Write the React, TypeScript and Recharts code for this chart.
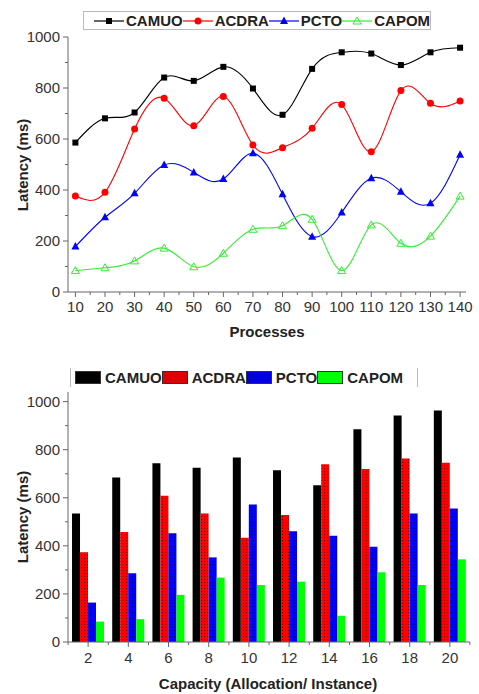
import React from 'react';
import { LineChart, Line, BarChart, Bar, XAxis, YAxis, Legend } from 'recharts';

// ---------- Top chart data ----------
const processes = [10, 20, 30, 40, 50, 60, 70, 80, 90, 100, 110, 120, 130, 140];
const camuoLine = [586, 681, 704, 841, 828, 883, 798, 695, 875, 940, 935, 890, 940, 958];
const acdraLine = [376, 391, 639, 760, 652, 767, 576, 566, 642, 735, 550, 790, 740, 749];
const pctoLine = [178, 293, 387, 498, 469, 443, 544, 383, 217, 312, 446, 393, 348, 538];
const capomLine = [84, 95, 122, 172, 99, 152, 246, 260, 285, 84, 263, 191, 219, 376];

// ---------- Bottom chart data ----------
const capacity = ['2', '4', '6', '8', '10', '12', '14', '16', '18', '20'];
const camuoBar = [535, 684, 744, 725, 768, 714, 652, 885, 942, 963];
const acdraBar = [373, 458, 608, 535, 434, 528, 739, 720, 763, 746];
const pctoBar = [164, 286, 452, 352, 572, 461, 442, 396, 535, 555];
const capomBar = [85, 95, 196, 268, 237, 251, 109, 290, 237, 344];

const seriesNames = ['CAMUO', 'ACDRA', 'PCTO', 'CAPOM'];
const lineColors = ['#000000', '#ff0000', '#0000ff', '#33ee33'];
const barColors = ['#000000', 'url(#redHatch)', 'url(#blueHatch)', '#00ff00'];
const barSwatch = ['#000000', '#e00000', '#0000dd', '#00ff00'];

const yTicks = [0, 100, 200, 300, 400, 500, 600, 700, 800, 900, 1000];
const xTicksTop = [10, 15, 20, 25, 30, 35, 40, 45, 50, 55, 60, 65, 70, 75, 80, 85, 90, 95, 100, 105, 110, 115, 120, 125, 130, 135, 140];

const FONT = '"Liberation Sans", Arial, sans-serif';
const AXIS = '#666';
const TXT = '#333';

const lineData = processes.map((p, i) => ({
  p,
  CAMUO: camuoLine[i],
  ACDRA: acdraLine[i],
  PCTO: pctoLine[i],
  CAPOM: capomLine[i],
}));

const barData = capacity.map((c, i) => ({
  c,
  CAMUO: camuoBar[i],
  ACDRA: acdraBar[i],
  PCTO: pctoBar[i],
  CAPOM: capomBar[i],
}));

const YTick = (props: any) => {
  const { x, y, payload } = props;
  const major = payload.value % 200 === 0;
  return (
    <g>
      <line x1={x} x2={x - (major ? 5 : 3)} y1={y} y2={y} stroke={AXIS} strokeWidth={1} />
      {major && (
        <text x={x - 8} y={y} dy={5} textAnchor="end" fontSize={15} fill={TXT} fontFamily={FONT}>
          {payload.value}
        </text>
      )}
    </g>
  );
};

const XTickTop = (props: any) => {
  const { x, y, payload } = props;
  const major = payload.value % 10 === 0;
  return (
    <g>
      <line x1={x} x2={x} y1={y} y2={y + (major ? 5 : 3)} stroke={AXIS} strokeWidth={1} />
      {major && (
        <text x={x} y={y + 20} textAnchor="middle" fontSize={15} fill={TXT} fontFamily={FONT}>
          {payload.value}
        </text>
      )}
    </g>
  );
};

const XTickBar = (props: any) => {
  const { x, y, payload, index } = props;
  return (
    <g>
      <line x1={x} x2={x} y1={y} y2={y + 5} stroke={AXIS} strokeWidth={1} />
      <line x1={x - 20} x2={x - 20} y1={y} y2={y + 3} stroke={AXIS} strokeWidth={1} />
      {index === capacity.length - 1 && (
        <line x1={x + 20} x2={x + 20} y1={y} y2={y + 3} stroke={AXIS} strokeWidth={1} />
      )}
      <text x={x} y={y + 21} textAnchor="middle" fontSize={15} fill={TXT} fontFamily={FONT}>
        {payload.value}
      </text>
    </g>
  );
};

const makeDot = (kind: number) => (p: any) => {
  const { cx, cy, key } = p;
  if (cx == null || cy == null) return <g key={key} />;
  if (kind === 0) return <rect key={key} x={cx - 3} y={cy - 3} width={6} height={6} fill="#000" />;
  if (kind === 1) return <circle key={key} cx={cx} cy={cy} r={3.5} fill="#ff0000" />;
  if (kind === 2)
    return <polygon key={key} points={`${cx},${cy - 4.5} ${cx - 4},${cy + 3} ${cx + 4},${cy + 3}`} fill="#0000ff" />;
  return (
    <polygon
      key={key}
      points={`${cx},${cy - 4} ${cx - 4},${cy + 3} ${cx + 4},${cy + 3}`}
      fill="none"
      stroke="#33ee33"
      strokeWidth={1}
    />
  );
};

const LineLegend = () => (
  <div
    style={{
      display: 'flex',
      alignItems: 'center',
      border: '1px solid #bbb',
      height: 19,
      width: 348,
      boxSizing: 'border-box',
      paddingLeft: 10,
      fontFamily: FONT,
      fontWeight: 'bold',
      fontSize: 15,
      color: '#222',
    }}
  >
    {seriesNames.map((n, i) => (
      <div key={n} style={{ display: 'flex', alignItems: 'center' }}>
        <svg width={30} height={14}>
          <line x1={0} x2={30} y1={7} y2={7} stroke={lineColors[i]} strokeWidth={1.2} />
          {makeDot(i)({ cx: 15, cy: 7, key: 'd' })}
        </svg>
        <span style={{ marginLeft: 2 }}>{n}</span>
      </div>
    ))}
  </div>
);

const BarLegend = () => (
  <div
    style={{
      display: 'flex',
      alignItems: 'center',
      borderLeft: '1px solid #bbb',
      borderRight: '1px solid #bbb',
      height: 19,
      width: 348,
      boxSizing: 'border-box',
      paddingLeft: 4,
      fontFamily: FONT,
      fontWeight: 'bold',
      fontSize: 15,
      color: '#222',
    }}
  >
    {seriesNames.map((n, i) => (
      <div key={n} style={{ display: 'flex', alignItems: 'center' }}>
        <div
          style={{
            width: 26,
            height: 13,
            background: barSwatch[i],
            border: '1px solid #333',
            boxSizing: 'border-box',
          }}
        />
        <span style={{ marginLeft: 4, marginRight: 0 }}>{n}</span>
      </div>
    ))}
  </div>
);

export default function App() {
  return (
    <div style={{ position: 'absolute', left: 0, top: 0, width: 479, height: 694, background: '#fff' }}>
      <div style={{ position: 'relative', width: 479, height: 345 }}>
        <LineChart width={479} height={345} data={lineData} margin={{ top: 37, right: 13, left: 8, bottom: 13 }}>
          <XAxis
            xAxisId="b"
            dataKey="p"
            type="number"
            domain={[7.5, 142]}
            ticks={xTicksTop}
            interval={0}
            tick={<XTickTop />}
            tickLine={false}
            tickSize={0}
            tickMargin={0}
            height={40}
            axisLine={{ stroke: AXIS }}
            allowDataOverflow
          />
          <XAxis
            xAxisId="t"
            dataKey="p"
            type="number"
            orientation="top"
            domain={[7.5, 142]}
            tick={false}
            tickLine={false}
            height={0}
            axisLine={{ stroke: AXIS }}
            allowDataOverflow
          />
          <YAxis
            yAxisId="l"
            type="number"
            domain={[0, 1000]}
            ticks={yTicks}
            interval={0}
            tick={<YTick />}
            tickLine={false}
            tickSize={0}
            tickMargin={0}
            width={60}
            axisLine={{ stroke: AXIS }}
          />
          <YAxis
            yAxisId="r"
            orientation="right"
            domain={[0, 1000]}
            tick={false}
            tickLine={false}
            width={0}
            axisLine={{ stroke: AXIS }}
          />
          <Legend
            layout="horizontal"
            verticalAlign="middle"
            align="center"
            content={() => <LineLegend />}
            wrapperStyle={{ position: 'absolute', top: 11, left: 83, width: 'auto' }}
          />
          {seriesNames.map((n, i) => (
            <Line
              key={n}
              xAxisId="b"
              yAxisId="l"
              type="natural"
              dataKey={n}
              stroke={lineColors[i]}
              strokeWidth={1.1}
              dot={makeDot(i)}
              activeDot={false}
              isAnimationActive={false}
            />
          ))}
        </LineChart>
        <div
          style={{
            position: 'absolute',
            left: 0,
            width: 534,
            top: 323,
            textAlign: 'center',
            fontFamily: FONT,
            fontWeight: 'bold',
            fontSize: 15,
            color: '#222',
          }}
        >
          Processes
        </div>
        <div
          style={{
            position: 'absolute',
            left: 22,
            top: 165,
            transform: 'translate(-50%, -50%) rotate(-90deg)',
            whiteSpace: 'nowrap',
            fontFamily: FONT,
            fontWeight: 'bold',
            fontSize: 15,
            color: '#222',
          }}
        >
          Latency (ms)
        </div>
      </div>

      <div style={{ position: 'relative', width: 479, height: 349 }}>
        <BarChart
          width={479}
          height={349}
          data={barData}
          margin={{ top: 47, right: 9, left: 8, bottom: 12 }}
          barCategoryGap="10%"
          barGap={0}
        >
          <defs>
            <pattern id="redHatch" width="3" height="3" patternUnits="userSpaceOnUse">
              <rect width="3" height="3" fill="#ff0000" />
              <rect width="1" height="1" fill="#800000" />
            </pattern>
            <pattern id="blueHatch" width="3" height="3" patternUnits="userSpaceOnUse">
              <rect width="3" height="3" fill="#0000ff" />
              <rect width="1" height="1" fill="#000080" />
            </pattern>
          </defs>
          <XAxis
            xAxisId="b"
            dataKey="c"
            interval={0}
            tick={<XTickBar />}
            tickLine={false}
            tickSize={0}
            tickMargin={0}
            height={40}
            axisLine={{ stroke: AXIS }}
          />
          <XAxis xAxisId="t" dataKey="c" orientation="top" tick={false} tickLine={false} height={0} axisLine={{ stroke: '#999' }} />
          <YAxis
            yAxisId="l"
            type="number"
            domain={[0, 1040]}
            ticks={yTicks}
            interval={0}
            tick={<YTick />}
            tickLine={false}
            tickSize={0}
            tickMargin={0}
            width={60}
            axisLine={{ stroke: AXIS }}
            allowDataOverflow
          />
          <YAxis
            yAxisId="r"
            orientation="right"
            domain={[0, 1040]}
            tick={false}
            tickLine={false}
            width={0}
            axisLine={{ stroke: '#999' }}
            allowDataOverflow
          />
          <Legend
            layout="horizontal"
            verticalAlign="middle"
            align="center"
            content={() => <BarLegend />}
            wrapperStyle={{ position: 'absolute', top: 23, left: 70, width: 'auto' }}
          />
          {seriesNames.map((n, i) => (
            <Bar key={n} xAxisId="b" yAxisId="l" dataKey={n} fill={barColors[i]} isAnimationActive={false} />
          ))}
        </BarChart>
        <div
          style={{
            position: 'absolute',
            left: 0,
            width: 536,
            top: 330,
            textAlign: 'center',
            fontFamily: FONT,
            fontWeight: 'bold',
            fontSize: 15,
            color: '#222',
          }}
        >
          Capacity (Allocation/ Instance)
        </div>
        <div
          style={{
            position: 'absolute',
            left: 22,
            top: 172,
            transform: 'translate(-50%, -50%) rotate(-90deg)',
            whiteSpace: 'nowrap',
            fontFamily: FONT,
            fontWeight: 'bold',
            fontSize: 15,
            color: '#222',
          }}
        >
          Latency (ms)
        </div>
      </div>
    </div>
  );
}
